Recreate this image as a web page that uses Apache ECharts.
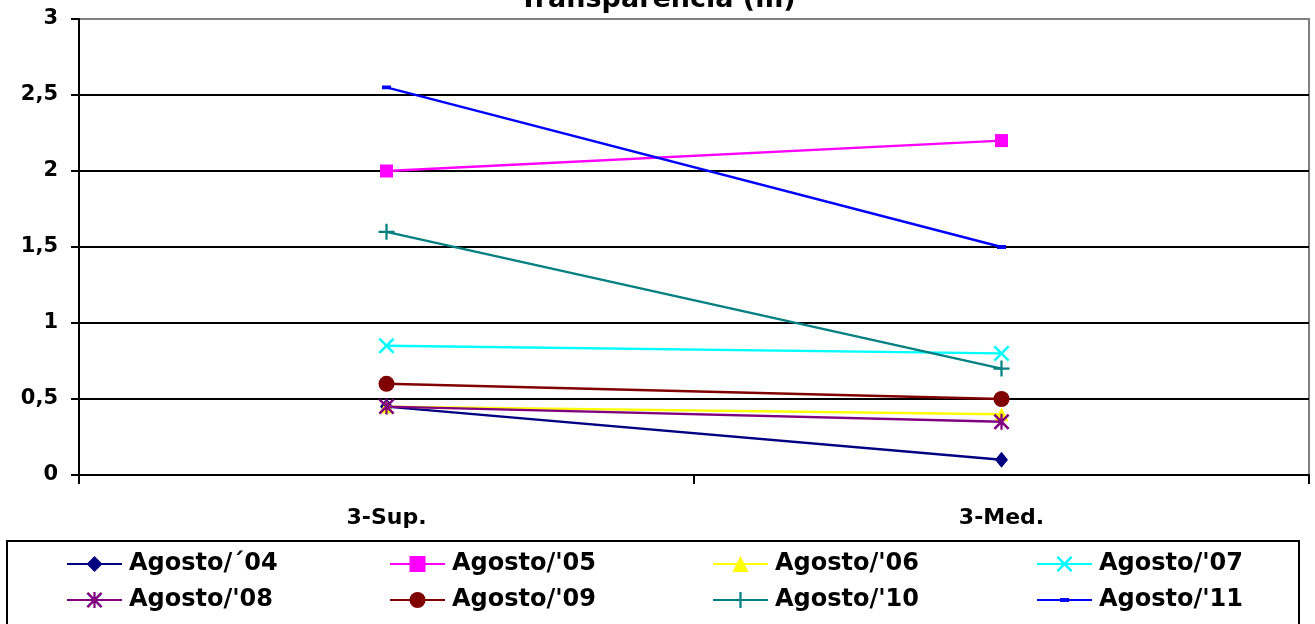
<!DOCTYPE html>
<html>
<head>
<meta charset="utf-8">
<style>
  html, body { margin: 0; padding: 0; background: #fff; }
  #chart { width: 1315px; height: 624px; }
</style>
<script src="https://cdn.jsdelivr.net/npm/echarts@6/dist/echarts.min.js"></script>
</head>
<body>
<div id="chart"></div>
<script>
// Water transparency (m) by sampling depth, August campaigns 2004-2011
const categories = ['3-Sup.', '3-Med.'];
const yTicks = { min: 0, max: 3, interval: 0.5 };

const ago04 = [0.45, 0.1];
const ago05 = [2.0, 2.2];
const ago06 = [0.45, 0.4];
const ago07 = [0.85, 0.8];
const ago08 = [0.45, 0.35];
const ago09 = [0.6, 0.5];
const ago10 = [1.6, 0.7];
const ago11 = [2.55, 1.5];

const seriesNames = ["Agosto/´04", "Agosto/'05", "Agosto/'06", "Agosto/'07",
                     "Agosto/'08", "Agosto/'09", "Agosto/'10", "Agosto/'11"];
const seriesValues = [ago04, ago05, ago06, ago07, ago08, ago09, ago10, ago11];

// marker shapes (paths are fitted to their bounding box)
const X_PATH = 'path://M0,11L11,0L50,39L89,0L100,11L61,50L100,89L89,100L50,61L11,100L0,89L39,50Z';
const PLUS_PATH = 'path://M43,0H57V43H100V57H57V100H43V57H0V43H43Z';
const STAR_PATH = 'path://M0,11L11,0L50,39L89,0L100,11L61,50L100,89L89,100L50,61L11,100L0,89L39,50Z M43,0H57V100H43Z';
// short dash in the middle of a 100x100 box; the tiny corner specks keep the box square
const DASH_PATH = 'path://M0,0L0.2,0L0,0.2Z M100,100L99.8,100L100,99.8Z M22,38H78V62H22Z';

const styles = [
  { color: '#000080', symbol: 'diamond', size: [13, 16] },
  { color: '#FF00FF', symbol: 'rect', size: 13 },
  { color: '#FFFF00', symbol: 'triangle', size: 14 },
  { color: '#00FFFF', symbol: X_PATH, size: 16 },
  { color: '#800080', symbol: STAR_PATH, size: 16 },
  { color: '#800000', symbol: 'circle', size: 16 },
  { color: '#008080', symbol: PLUS_PATH, size: 16 },
  { color: '#0000FF', symbol: DASH_PATH, size: 16 }
];

const FONT = 'DejaVu Sans';

const series = seriesNames.map((name, i) => ({
  name: name,
  type: 'line',
  data: seriesValues[i],
  symbol: styles[i].symbol,
  symbolSize: styles[i].size,
  showAllSymbol: true,
  lineStyle: { color: styles[i].color, width: 2.4 },
  itemStyle: { color: styles[i].color, borderWidth: 0 },
  emphasis: { disabled: true },
  animation: false,
  z: 3 + i
}));

// legend laid out as four columns of two rows
const legendCols = [[0, 4], [1, 5], [2, 6], [3, 7]];
const legendLeft = [66, 389, 712, 1036];
const legends = legendCols.map((idx, c) => ({
  data: idx.map(k => seriesNames[k]),
  orient: 'vertical',
  left: legendLeft[c],
  top: 552,
  itemWidth: 55,
  itemHeight: 20,
  itemGap: 12,
  selectedMode: false,
  padding: 0,
  textStyle: {
    fontFamily: FONT, fontWeight: 'bold', fontSize: 24, color: '#000',
    padding: [0, 0, 0, 2]
  }
}));

const chart = echarts.init(document.getElementById('chart'), null, { renderer: 'canvas' });
chart.setOption({
  backgroundColor: '#fff',
  animation: false,
  title: {
    text: 'Transparencia (m)',
    left: 'center',
    top: -19,
    textStyle: { fontFamily: FONT, fontWeight: 'bold', fontSize: 27, color: '#000' }
  },
  legend: legends,
  grid: {
    left: 79, right: 6, top: 19, bottom: 149,
    show: true, borderColor: '#808080', borderWidth: 2, backgroundColor: 'transparent'
  },
  xAxis: {
    type: 'category',
    data: categories,
    boundaryGap: true,
    axisLine: { show: true, lineStyle: { color: '#000', width: 2 } },
    axisTick: { show: true, length: 9, lineStyle: { color: '#000', width: 2 } },
    axisLabel: { margin: 32, fontFamily: FONT, fontWeight: 'bold', fontSize: 22, color: '#000' },
    splitLine: { show: false }
  },
  yAxis: {
    type: 'value',
    min: yTicks.min,
    max: yTicks.max,
    interval: yTicks.interval,
    axisLine: { show: true, lineStyle: { color: '#000', width: 2 } },
    axisTick: { show: true, length: 8, lineStyle: { color: '#000', width: 2 } },
    axisLabel: {
      margin: 21, fontFamily: FONT, fontWeight: 'bold', fontSize: 21, color: '#000',
      formatter: v => String(v).replace('.', ',')
    },
    splitLine: { show: true, showMaxLine: false, lineStyle: { color: '#000', width: 2 } }
  },
  graphic: [{
    type: 'rect',
    shape: { x: 7, y: 541, width: 1292, height: 100 },
    style: { fill: 'none', stroke: '#000', lineWidth: 2 },
    silent: true,
    z: 0
  }],
  series: series
});
</script>
</body>
</html>
